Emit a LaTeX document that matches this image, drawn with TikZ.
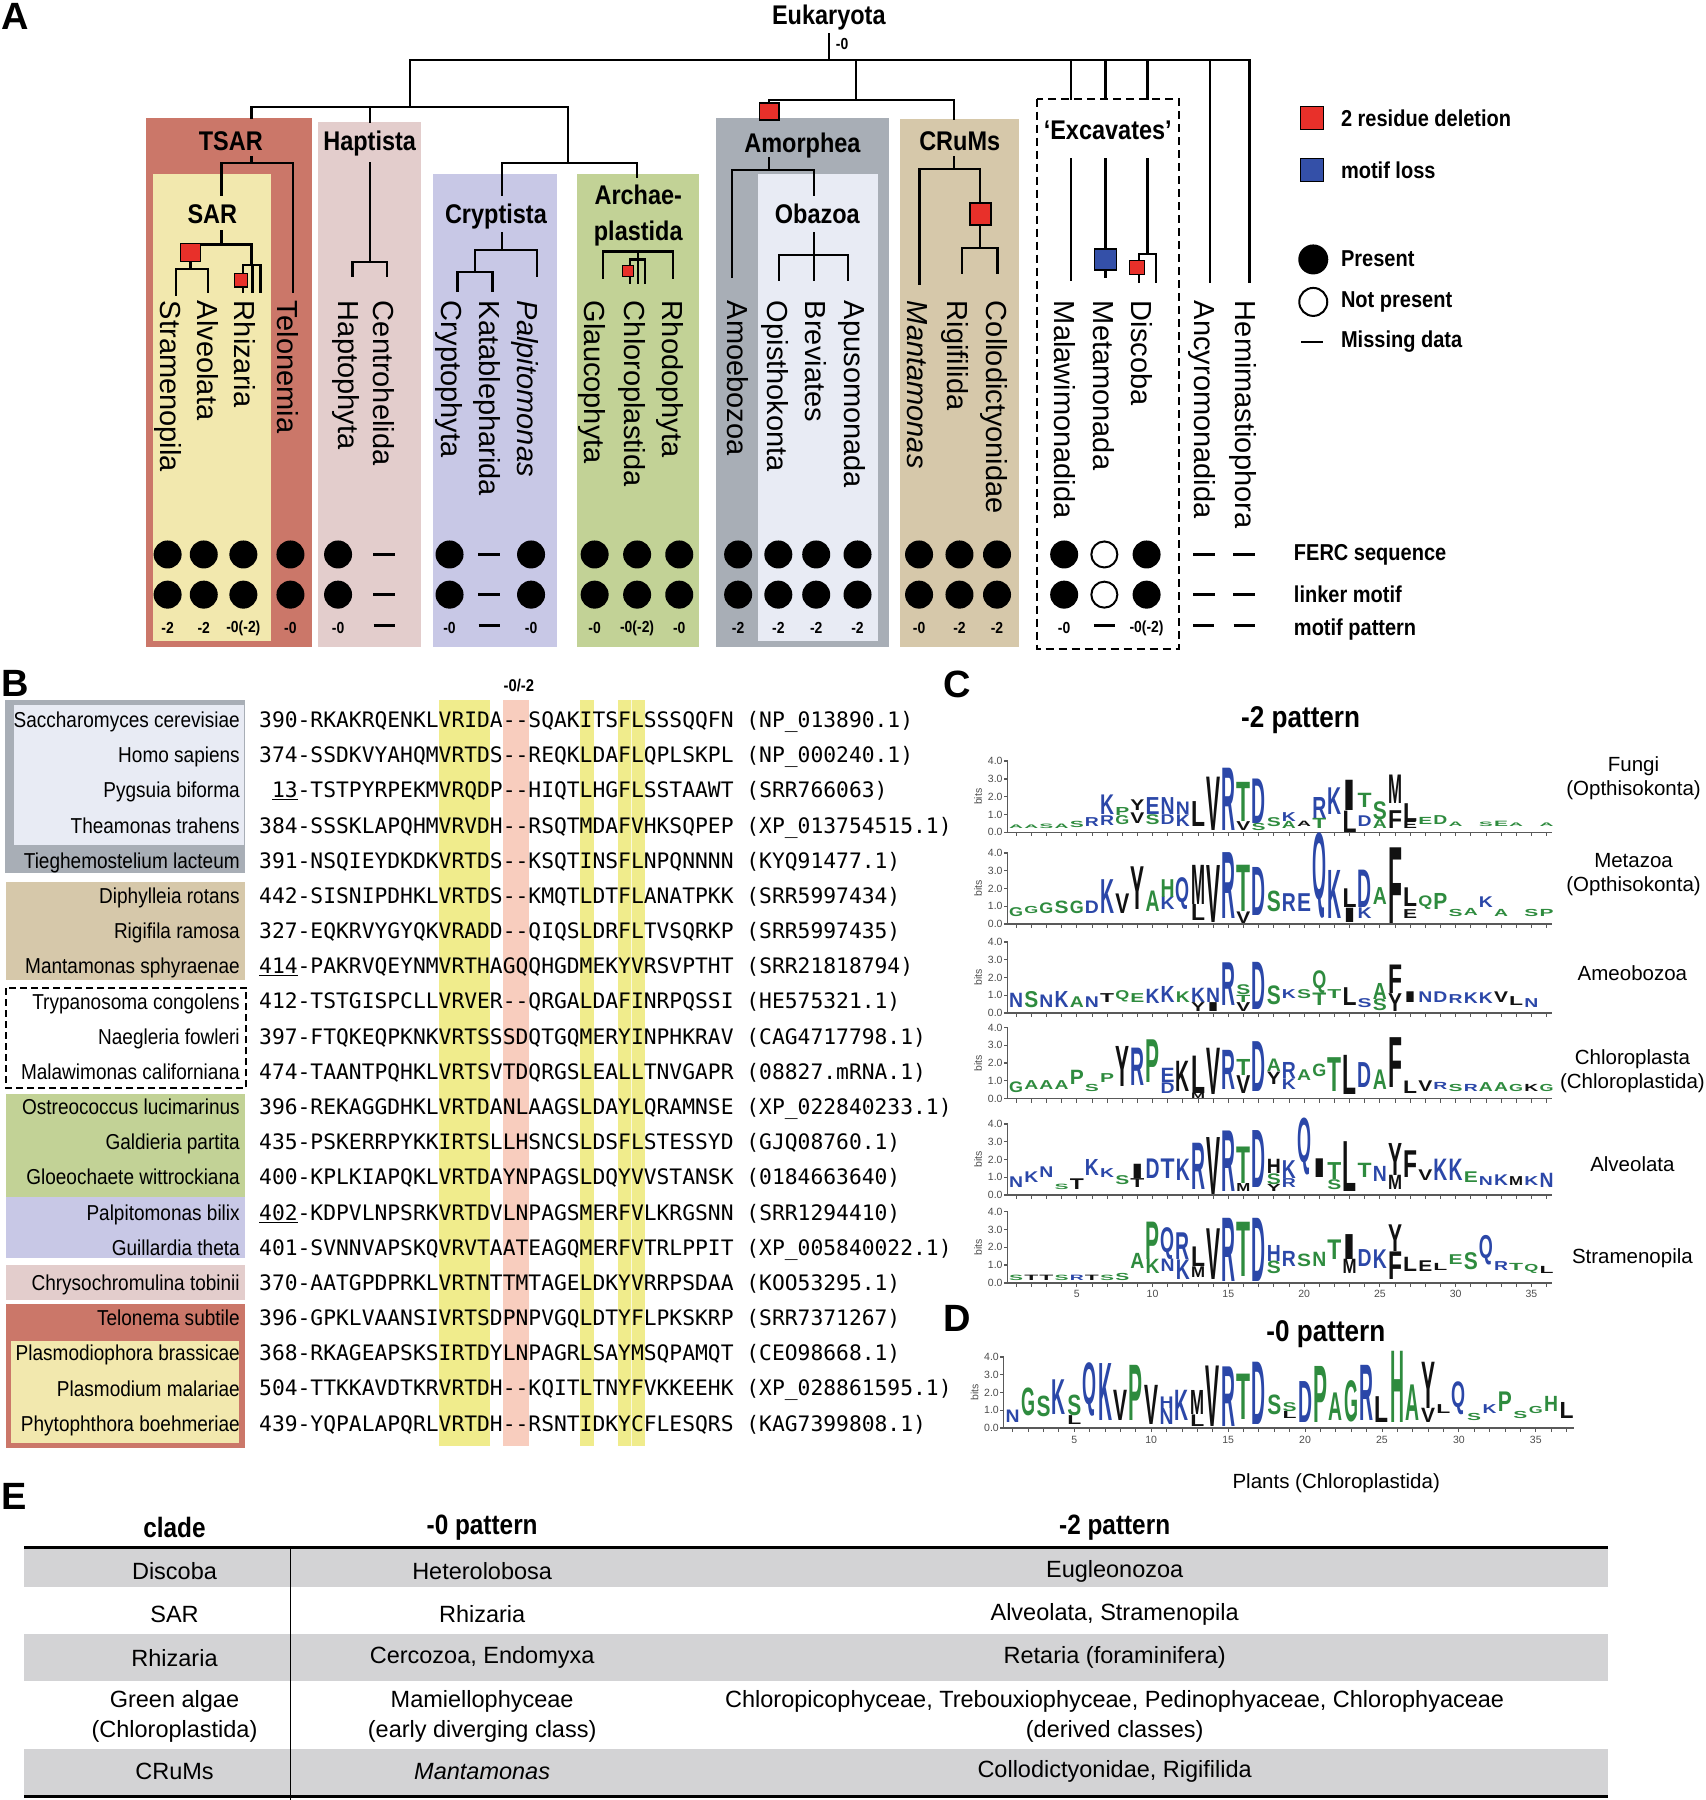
\documentclass[tikz,border=0pt]{standalone}
\usepackage{fontspec}
\usepackage{graphicx}
\setmainfont{Liberation Sans}
\newfontfamily\condfont[FakeStretch=0.87]{Liberation Sans}
\newfontfamily\narrowfont[FakeStretch=0.88]{Liberation Sans}
\newfontfamily\seqfont{DejaVu Sans Mono}
\usepackage{xcolor}
\definecolor{tsarred}{HTML}{CB7769}
\definecolor{saryel}{HTML}{F2E8AE}
\definecolor{haptpink}{HTML}{E3CDCC}
\definecolor{crypblue}{HTML}{C8C8E6}
\definecolor{archgreen}{HTML}{C2D296}
\definecolor{amorgray}{HTML}{A8AEB6}
\definecolor{obazlight}{HTML}{E8EBF4}
\definecolor{crumtan}{HTML}{D6C8AA}
\definecolor{delred}{HTML}{E8302A}
\definecolor{lossblue}{HTML}{3450A8}
\definecolor{hiyel}{HTML}{F0EC8C}
\definecolor{hipink}{HTML}{F8CDBE}
\definecolor{rowgray}{HTML}{D3D3D5}
\definecolor{lb}{HTML}{2B47A8}
\definecolor{lg}{HTML}{2E8B3E}
\definecolor{lk}{HTML}{111111}
\newcommand{\mdash}{\rule[4.5pt]{21pt}{2.8pt}}
% one sequence logo: prefix, baseline, first position x, pitch, letters
\newcommand{\logorow}[5]{%
  \foreach \lpos/\lchar/\lbot/\ltop/\lcol [count=\n] in {#5} {%
    \pgfmathsetmacro\hh{max(0.6,(\ltop-\lbot)*17.8)}%
    \node[logoletter, text=\lcol] (#1-\n) at ({#3+(\lpos-1)*#4}, {#2-\lbot*15.5}) {\resizebox{14pt}{\hh pt}{\lchar}};%
  }%
}
\tikzset{treeline/.style={line width=2.2pt,line cap=rect},
  panellbl/.style={font=\bfseries\fontsize{38}{38}\selectfont,inner sep=0pt,anchor=north west},
  cladehead/.style={font=\condfont\bfseries\fontsize{27}{30}\selectfont,inner sep=0pt,text height=19.5pt,text depth=0pt},
  leaf/.style={font=\fontsize{29}{30}\selectfont,rotate=-90,anchor=west,inner sep=0pt,text height=20.8pt,text depth=0pt},
  present/.style={circle,fill=black,minimum size=28pt,inner sep=0pt},
  absent/.style={circle,draw=black,line width=2pt,fill=white,minimum size=26pt,inner sep=0pt},
  missing/.style={fill=black,minimum width=22pt,minimum height=2.8pt,inner sep=0pt},
  patlbl/.style={font=\condfont\bfseries\fontsize{16}{16}\selectfont,inner sep=0pt},
  legtxt/.style={font=\condfont\bfseries\fontsize{23}{24}\selectfont,anchor=west,inner sep=0pt},
  delbox/.style={draw=black,line width=1.3pt,fill=delred,inner sep=0pt},
  lossbox/.style={draw=black,line width=1.3pt,fill=lossblue,inner sep=0pt},
  species/.style={font=\narrowfont\fontsize{21.6}{24}\selectfont,anchor=east,inner sep=0pt,text height=15.5pt,text depth=0pt},
  seqline/.style={font=\seqfont\fontsize{21.3}{24}\selectfont,anchor=base west,inner sep=0pt},
  ptitle/.style={font=\condfont\bfseries\fontsize{30}{30}\selectfont,inner sep=0pt},
  logoaxis/.style={draw=black!65,line width=1.3pt},
  bitlbl/.style={font=\fontsize{10.5}{10.5}\selectfont,text=black!70,inner sep=0pt},
  logoletter/.style={font=\bfseries,inner sep=0pt,anchor=south},
  logoname/.style={font=\fontsize{20.5}{24}\selectfont,align=center,inner sep=0pt},
  tabhead/.style={font=\condfont\bfseries\fontsize{28}{30}\selectfont,inner sep=0pt},
  tabcell/.style={font=\fontsize{23.5}{30}\selectfont,align=center,inner sep=0pt}}

\begin{document}
\begin{tikzpicture}[x=1.148pt,y=-1.148pt]
\useasboundingbox (0,0) rectangle (1486,1568);
%% ---------------- A: tree
\fill[tsarred] (127,103) rectangle (272,564);
\fill[saryel] (133,152) rectangle (236,558);
\fill[haptpink] (277,106) rectangle (367,564);
\fill[crypblue] (377,152) rectangle (485,564);
\fill[archgreen] (503,152) rectangle (609,564);
\fill[amorgray] (624,103) rectangle (774,564);
\fill[obazlight] (660,152) rectangle (765,558);
\fill[crumtan] (784,104) rectangle (888,564);
\draw[line width=2pt,dash pattern=on 8pt off 5pt] (903,86) rectangle (1027,565);
\node[panellbl] (lblA) at (1,3) {A};
\node[cladehead] (h-euk) at (722,13) {Eukaryota};
\node[patlbl,anchor=west] (h-root) at (728,38) {-0};
\draw[treeline]
 (722,30) -- (722,52) (357,52) -- (1088.5,52)
 (357,52) -- (357,93) (219,93) -- (495,93)
 (219,93) -- (219,103) (219,137) -- (219,142)
 (193,142) -- (255,142) (193,142) -- (193,170) (255,142) -- (255,254)
 (193,201) -- (193,213) (166,213) -- (219,213) (166,213) -- (166,234)
 (153,234) -- (181,234) (153,234) -- (153,257) (181,234) -- (181,254)
 (219,213) -- (219,231) (212,231) -- (227,231)
 (212,231) -- (212,254) (220,231) -- (220,254) (227,231) -- (227,254)
 (322,93) -- (322,106) (322,142) -- (322,228)
 (307,228) -- (337,228) (307,228) -- (307,240) (337,228) -- (337,240)
 (495,93) -- (495,142) (437,142) -- (555,142)
 (437,142) -- (437,170) (555,142) -- (555,154)
 (437,203) -- (437,218) (413.5,218) -- (467.5,218) (467.5,218) -- (467.5,240)
 (413.5,218) -- (413.5,237) (398.5,237) -- (429,237)
 (398.5,237) -- (398.5,253) (429,237) -- (429,253)
 (525,219) -- (586,219) (525,219) -- (525,242) (586,219) -- (586,242)
 (549,226) -- (562,226) (549,226) -- (549,246) (556,219) -- (556,246) (562,226) -- (562,246)
 (746,52) -- (746,87) (670,87) -- (831,87) (670,87) -- (670,103)
 (670,138) -- (670,148) (637.5,148) -- (709,148)
 (637.5,148) -- (637.5,241) (709,148) -- (709,170)
 (709,203) -- (709,244) (678.5,222) -- (739,222)
 (678.5,222) -- (678.5,244) (739,222) -- (739,244)
 (831,87) -- (831,104) (831,137) -- (831,147)
 (801,147) -- (853.6,147) (801,147) -- (801,247) (853.6,147) -- (853.6,216)
 (838,216) -- (869,216) (838,216) -- (838,238) (869,216) -- (869,238)
 (933,52) -- (933,86) (963,52) -- (963,86) (999.6,52) -- (999.6,86)
 (933,139) -- (933,244) (963,139) -- (963,241) (999.6,139) -- (999.6,221)
 (992,221) -- (1006.7,221) (992,221) -- (992,245.5) (1006.7,221) -- (1006.7,245.5)
 (1054,52) -- (1054,245.5) (1088.5,52) -- (1088.5,245.5);
\node[delbox,minimum width=20pt,minimum height=18pt] (del-sar) at (166,220) {};
\node[delbox,minimum size=13.5pt] (del-rhi) at (210,244) {};
\node[delbox,minimum size=11.5pt] (del-arc) at (547,236) {};
\node[delbox,minimum width=19.5pt,minimum height=17pt] (del-amo) at (670,97) {};
\node[delbox,minimum width=21pt,minimum height=22pt] (del-cru) at (854,186.5) {};
\node[lossbox,minimum width=22pt,minimum height=21pt] (loss-met) at (963,226) {};
\node[delbox,minimum width=15pt,minimum height=14pt] (del-dis) at (990.5,233) {};
\node[cladehead] (h-tsar) at (201,123) {TSAR};
\node[cladehead] (h-sar) at (185,186) {SAR};
\node[cladehead] (h-hap) at (322,123) {Haptista};
\node[cladehead] (h-cry) at (432,186) {Cryptista};
\node[cladehead] (h-arc1) at (556,170) {Archae-};
\node[cladehead] (h-arc2) at (556,201) {plastida};
\node[cladehead] (h-amo) at (699,124) {Amorphea};
\node[cladehead] (h-oba) at (712,186) {Obazoa};
\node[cladehead] (h-cru) at (836,123) {CRuMs};
\node[cladehead] (h-exc) at (965,113) {‘Excavates’};
\foreach \lx/\ln [count=\k] in {149/Stramenopila,181/Alveolata,213/Rhizaria,251/Telonemia,
  304/Haptophyta,334/Centrohelida,394/Cryptophyta,427/Katablepharida,460/\textit{Palpitomonas},
  518/Glaucophyta,553/Chloroplastida,586/Rhodophyta,643/Amoebozoa,678/Opisthokonta,711/Breviates,
  745/Apusomonada,800/\textit{Mantamonas},834/Rigifilida,868/Collodictyonidae,928/Malawimonadida,
  962/Metamonada,995/Discoba,1050/Ancyromonadida,1085/Hemimastiophora}
  \node[leaf] (leaf-\k) at (\lx,262) {\ln};
\foreach \dx/\st/\pt [count=\k] in {146/present/-2,177.5/present/-2,212/present/-0(-2),253/present/-0,
  294.5/present/-0,334.7/missing/\mdash,391.6/present/-0,426/missing/\mdash,462.6/present/-0,
  518/present/-0,555/present/-0(-2),591.7/present/-0,643/present/-2,678/present/-2,711/present/-2,
  747/present/-2,800.6/present/-0,835.8/present/-2,868.5/present/-2,927/present/-0,
  962/absent/\mdash,998.8/present/-0(-2),1048.6/missing/\mdash,1083.8/missing/\mdash}
{
  \node[\st] (fe-\k) at (\dx,483) {};
  \node[\st] (lm-\k) at (\dx,518) {};
  \node[patlbl] (mp-\k) at (\dx,547) {\pt};
}
\node[legtxt] (row-fe) at (1127,483) {FERC sequence};
\node[legtxt] (row-lm) at (1127,518) {linker motif};
\node[legtxt] (row-mp) at (1127,548) {motif pattern};
% legend
\node[delbox,minimum size=23pt] (leg-del) at (1143,103) {};
\node[legtxt] (leg-del-t) at (1168,103) {2 residue deletion};
\node[lossbox,minimum size=23pt] (leg-loss) at (1143,148) {};
\node[legtxt] (leg-loss-t) at (1168,148) {motif loss};
\node[present,minimum size=30pt] (leg-pres) at (1144,226) {};
\node[legtxt] (leg-pres-t) at (1168,225) {Present};
\node[absent,minimum size=28pt] (leg-abs) at (1144,263) {};
\node[legtxt] (leg-abs-t) at (1168,263) {Not present};
\node[missing] (leg-miss) at (1143,298) {};
\node[legtxt] (leg-miss-t) at (1168,298) {Missing data};
%% ---------------- B: alignment
\node[panellbl] (lblB) at (1,584) {B};
\fill[amorgray] (4.7,610) rectangle (213,760.7);
\fill[obazlight] (11.8,614) rectangle (212.5,735.8);
\fill[crumtan] (5.6,768) rectangle (213,853.8);
\draw[line width=2pt,dash pattern=on 7pt off 4pt] (5.6,860.7) rectangle (214.6,948);
\fill[archgreen] (5.6,952.7) rectangle (213,1042.5);
\fill[crypblue] (5.6,1042.5) rectangle (213,1095.8);
\fill[haptpink] (5.6,1101.6) rectangle (213,1132.7);
\fill[tsarred] (5.6,1136) rectangle (213,1261.5);
\fill[saryel] (9.3,1168) rectangle (207.8,1257);
\fill[hiyel] (382,610) rectangle (427,1260);
\fill[hipink] (438,610) rectangle (461,1260);
\fill[hiyel] (505,610) rectangle (517.5,1260);
\fill[hiyel] (538,610) rectangle (562,1260);
\draw[white,line width=0.8pt,opacity=0.7] (550,610) -- (550,1260);
\node[patlbl,font=\condfont\bfseries\fontsize{17}{17}\selectfont] (hdr-gap) at (452,597) {-0/-2};
\foreach \sp/\sq [count=\i] in {
  Saccharomyces cerevisiae/390-RKAKRQENKLVRIDA--SQAKITSFLSSSQQFN (NP\_013890.1),
  Homo sapiens/374-SSDKVYAHQMVRTDS--REQKLDAFLQPLSKPL (NP\_000240.1),
  Pygsuia biforma/\hphantom{3}\underline{13}-TSTPYRPEKMVRQDP--HIQTLHGFLSSTAAWT (SRR766063),
  Theamonas trahens/384-SSSKLAPQHMVRVDH--RSQTMDAFVHKSQPEP (XP\_013754515.1),
  Tieghemostelium lacteum/391-NSQIEYDKDKVRTDS--KSQTINSFLNPQNNNN (KYQ91477.1),
  Diphylleia rotans/442-SISNIPDHKLVRTDS--KMQTLDTFLANATPKK (SRR5997434),
  Rigifila ramosa/327-EQKRVYGYQKVRADD--QIQSLDRFLTVSQRKP (SRR5997435),
  Mantamonas sphyraenae/\underline{414}-PAKRVQEYNMVRTHAGQQHGDMEKYVRSVPTHT (SRR21818794),
  Trypanosoma congolens/412-TSTGISPCLLVRVER--QRGALDAFINRPQSSI (HE575321.1),
  Naegleria fowleri/397-FTQKEQPKNKVRTSSSDQTGQMERYINPHKRAV (CAG4717798.1),
  Malawimonas californiana/474-TAANTPQHKLVRTSVTDQRGSLEALLTNVGAPR (08827.mRNA.1),
  Ostreococcus lucimarinus/396-REKAGGDHKLVRTDANLAAGSLDAYLQRAMNSE (XP\_022840233.1),
  Galdieria partita/435-PSKERRPYKKIRTSLLHSNCSLDSFLSTESSYD (GJQ08760.1),
  Gloeochaete wittrockiana/400-KPLKIAPQKLVRTDAYNPAGSLDQYVVSTANSK (0184663640),
  Palpitomonas bilix/\underline{402}-KDPVLNPSRKVRTDVLNPAGSMERFVLKRGSNN (SRR1294410),
  Guillardia theta/401-SVNNVAPSKQVRVTAATEAGQMERFVTRLPPIT (XP\_005840022.1),
  Chrysochromulina tobinii/370-AATGPDPRKLVRTNTTMTAGELDKYVRRPSDAA (KOO53295.1),
  Telonema subtile/396-GPKLVAANSIVRTSDPNPVGQLDTYFLPKSKRP (SRR7371267),
  Plasmodiophora brassicae/368-RKAGEAPSKSIRTDYLNPAGRLSAYMSQPAMQT (CEO98668.1),
  Plasmodium malariae/504-TTKKAVDTKRVRTDH--KQITLTNYFVKKEEHK (XP\_028861595.1),
  Phytophthora boehmeriae/439-YQPALAPQRLVRTDH--RSNTIDKYCFLESQRS (KAG7399808.1)}
{
  \node[species] (sp-\i) at (209,{627+(\i-1)*30.65}) {\sp};
  \node[seqline] (sq-\i) at (225.6,{633.7+(\i-1)*30.65}) {\sq};
}
%% ---------------- C: -2 pattern logos
\node[panellbl] (lblC) at (822,584) {C};
\node[ptitle] (t-m2) at (1133,627) {-2 pattern};
\foreach \yb [count=\k] in {725,805,882.5,957,1041,1117.5} {
  \draw[logoaxis] (877.7,\yb) -- (877.7,\yb-62) (877.7,\yb) -- (1352,\yb);
  \foreach \t in {0,...,4} {
    \draw[logoaxis] (877.7,\yb-\t*15.5) -- ++(-3,0);
    \node[bitlbl,anchor=east] (ct-\k-\t) at (873.5,\yb-\t*15.5) {\t.0};
  }
  \foreach \p in {1,...,36} \draw[logoaxis,line width=0.8pt] (885.2+\p*13.2-13.2,\yb) -- ++(0,3.5);
  \node[bitlbl,rotate=90] (cb-\k) at (852,\yb-31) {bits};
}
\foreach \n in {5,10,...,35} \node[bitlbl] (cx-\n) at (885.2+\n*13.2-13.2,1127) {\n};
\logorow{fu}{725}{885.2}{13.2}{1/A/0.2/0.4/lg,2/A/0.2/0.4/lg,3/S/0.2/0.45/lg,4/A/0.2/0.45/lg,5/S/0.25/0.6/lg,
  6/R/0.3/0.8/lb,7/R/0.35/0.9/lb,7/K/1.0/2.1/lb,8/G/0.4/0.9/lg,8/P/0.95/1.4/lg,9/V/0.5/1.1/lk,9/Y/1.2/1.8/lk,
  10/S/0.4/0.95/lg,10/E/1.0/1.95/lb,11/D/0.4/0.95/lb,11/N/1.0/1.95/lb,12/K/0.3/0.95/lb,12/N/1.0/1.7/lb,
  13/L/0.3/1.7/lk,14/V/0.1/3.1/lk,15/R/0.1/3.6/lb,16/V/0.1/0.6/lk,16/T/0.6/2.8/lg,17/S/0.1/0.5/lg,
  17/D/0.5/3.0/lb,18/S/0.3/0.8/lg,19/A/0.2/0.6/lg,19/K/0.6/1.1/lb,20/A/0.3/0.6/lk,21/T/0.2/0.77/lg,
  21/R/0.77/1.95/lb,22/K/1.0/2.5/lb,23/L/0.0/1.2/lk,23/I/1.2/2.9/lk,24/D/0.3/0.9/lb,24/T/1.4/2.2/lg,
  25/A/0.2/0.7/lg,25/S/0.7/1.7/lg,26/F/0.2/1.2/lk,26/M/1.6/3.2/lk,27/E/0.2/0.6/lk,27/L/0.6/1.6/lk,
  28/E/0.4/0.8/lg,29/D/0.4/0.9/lg,30/A/0.3/0.55/lg,32/S/0.3/0.55/lg,33/E/0.3/0.6/lg,34/A/0.3/0.5/lg,36/A/0.3/0.5/lg}
\logorow{mz}{805}{885.2}{13.2}{1/G/0.4/0.9/lg,2/G/0.6/1.0/lg,3/G/0.6/1.2/lg,4/S/0.6/1.3/lg,5/G/0.6/1.3/lg,
  6/D/0.6/1.3/lb,7/K/0.6/2.5/lb,8/V/0.6/1.7/lk,9/Y/0.8/3.2/lk,10/A/0.7/1.85/lg,11/K/0.8/1.5/lb,11/H/1.5/2.5/lg,
  12/Q/0.8/2.2/lb,13/L/0.2/1.1/lk,13/M/1.1/3.3/lk,14/V/0.1/3.3/lk,15/R/0.3/4.0/lb,16/V/0.05/0.7/lk,
  16/T/0.7/3.3/lg,17/D/0.5/3.2/lb,18/S/0.7/1.85/lg,19/R/0.7/1.7/lb,20/E/0.7/1.7/lb,21/Q/0.3/4.05/lb,
  22/K/0.3/3.0/lb,23/I/0.1/0.9/lk,23/L/0.9/1.95/lk,24/K/0.3/0.9/lb,24/D/0.9/3.0/lb,25/A/1.1/2.05/lg,
  26/F/0.05/4.3/lk,27/E/0.3/0.8/lk,27/L/1.0/2.05/lk,28/Q/0.8/1.4/lg,29/P/0.8/1.7/lg,30/S/0.4/0.8/lg,
  31/A/0.5/0.9/lg,32/K/0.9/1.5/lb,33/A/0.4/0.8/lg,35/S/0.4/0.8/lg,36/P/0.4/0.8/lg}
\logorow{am}{882.5}{885.2}{13.2}{1/N/0.3/1.1/lb,2/S/0.3/1.2/lg,3/N/0.3/1.0/lb,4/K/0.3/1.2/lb,5/A/0.3/0.9/lg,
  6/N/0.3/0.9/lb,7/T/0.6/1.1/lk,8/Q/0.6/1.1/lg,9/E/0.6/1.1/lg,10/K/0.5/1.3/lb,11/K/0.6/1.5/lb,12/K/0.6/1.2/lg,
  13/Y/0.1/0.6/lk,13/K/0.6/1.4/lb,14/I/0.1/0.6/lk,14/N/0.6/1.4/lb,15/R/0.4/2.8/lb,16/V/0.1/0.6/lk,
  16/T/0.6/1.0/lg,16/S/1.0/1.55/lg,17/D/0.2/2.85/lb,18/S/0.45/1.5/lg,19/K/0.8/1.3/lb,20/S/0.8/1.3/lg,
  21/T/0.4/1.1/lg,21/Q/1.1/2.1/lg,22/T/0.8/1.3/lg,23/L/0.4/1.4/lk,24/S/0.3/0.8/lb,25/S/0.1/0.75/lg,
  25/A/0.75/1.65/lg,26/Y/0.1/1.1/lk,26/F/1.1/2.7/lk,27/I/0.6/1.2/lk,28/N/0.6/1.2/lb,29/D/0.6/1.2/lb,
  30/R/0.5/1.0/lb,31/K/0.5/1.1/lb,32/K/0.5/1.1/lb,33/V/0.6/1.2/lk,34/L/0.4/0.9/lk,35/N/0.3/0.8/lb}
\logorow{ch}{957}{885.2}{13.2}{1/G/0.3/0.9/lg,2/A/0.5/1.0/lg,3/A/0.5/1.0/lg,4/A/0.5/1.0/lg,5/P/0.8/1.6/lg,
  6/S/0.4/0.8/lg,7/P/0.9/1.4/lg,8/Y/0.65/2.9/lk,9/R/0.7/2.8/lb,10/P/0.9/3.3/lg,11/D/0.3/0.9/lb,
  11/E/0.9/1.7/lb,12/K/0.4/2.1/lk,13/M/0.0/0.3/lk,13/L/0.3/2.4/lk,14/V/0.2/2.8/lk,15/R/0.5/2.7/lb,
  16/V/0.3/1.3/lk,16/T/1.3/2.2/lg,17/D/0.4/3.2/lb,18/Y/0.8/1.5/lk,18/A/1.5/2.2/lg,19/K/0.5/1.1/lb,
  19/R/1.1/2.0/lb,20/A/1.0/1.6/lg,21/G/1.2/1.9/lg,22/T/0.4/2.3/lg,23/L/0.2/2.4/lk,24/D/0.6/2.0/lb,
  25/A/0.5/1.6/lg,26/F/0.6/3.4/lk,27/L/0.3/1.0/lk,28/V/0.4/1.0/lk,29/R/0.5/0.9/lb,30/S/0.4/0.8/lg,
  31/R/0.4/0.8/lb,32/A/0.4/0.9/lg,33/A/0.4/0.9/lg,34/G/0.4/0.8/lg,35/K/0.4/0.8/lk,36/G/0.4/0.8/lg}
\logorow{al}{1041}{885.2}{13.2}{1/N/0.4/1.0/lb,2/K/0.7/1.3/lb,3/N/1.0/1.6/lb,4/S/0.3/0.6/lg,5/T/0.3/0.9/lk,
  6/K/1.1/2.0/lb,7/K/1.0/1.5/lb,8/S/0.6/1.1/lg,9/T/0.4/0.9/lk,9/I/0.9/1.7/lk,10/D/0.9/2.0/lb,
  11/T/0.9/2.0/lb,12/K/0.8/2.0/lb,13/R/0.3/2.9/lb,14/V/0.0/3.2/lk,15/R/0.2/3.6/lb,16/M/0.2/0.65/lk,
  16/T/0.65/2.7/lg,17/D/0.4/3.6/lb,18/Y/0.2/0.6/lk,18/S/0.6/1.2/lg,18/H/1.2/2.0/lk,19/R/0.4/0.9/lb,
  19/K/0.9/1.9/lb,20/Q/1.1/3.6/lb,21/I/0.95/2.0/lk,22/S/0.3/0.85/lg,22/T/0.85/1.8/lg,23/L/0.2/3.0/lk,
  24/T/1.0/1.8/lg,25/N/0.75/1.6/lb,26/M/0.3/1.1/lk,26/Y/1.1/2.9/lk,27/F/1.0/2.5/lk,28/V/0.8/1.4/lk,
  29/K/0.8/2.0/lb,30/K/0.8/2.0/lb,31/E/0.7/1.3/lg,32/N/0.5/1.0/lb,33/K/0.5/1.1/lb,34/M/0.5/1.0/lk,
  35/K/0.5/1.0/lb,36/N/0.4/1.2/lb}
\logorow{st}{1117.5}{885.2}{13.2}{1/S/0.1/0.4/lg,2/T/0.1/0.4/lk,3/T/0.1/0.4/lk,4/S/0.1/0.4/lg,5/R/0.1/0.4/lb,
  6/T/0.1/0.4/lk,7/S/0.1/0.4/lg,8/S/0.1/0.5/lg,9/A/0.8/1.65/lg,10/K/0.5/1.3/lg,10/P/1.3/3.4/lg,
  11/N/0.6/1.3/lb,11/Q/1.3/2.7/lb,12/K/0.2/1.3/lb,12/R/1.3/2.8/lb,13/M/0.3/0.9/lk,13/L/0.9/2.0/lk,
  14/V/0.15/3.0/lk,15/R/0.05/3.6/lb,16/T/0.35/3.4/lg,17/D/0.05/3.6/lb,18/S/0.5/1.2/lg,18/H/1.2/2.1/lb,
  19/R/0.9/1.75/lb,20/S/0.9/1.6/lg,21/N/0.9/1.7/lg,22/T/1.3/2.4/lg,23/M/0.5/1.3/lk,23/I/1.3/2.7/lk,
  24/D/0.9/1.85/lb,25/K/0.8/1.85/lb,26/F/0.2/1.75/lk,26/Y/1.75/3.25/lk,27/L/0.6/1.4/lk,28/E/0.6/1.2/lk,
  29/L/0.7/1.1/lk,30/E/1.0/1.55/lg,31/S/0.7/1.65/lg,32/Q/1.0/2.3/lb,33/R/0.7/1.2/lb,34/T/0.7/1.1/lg,
  35/Q/0.5/0.9/lg,36/L/0.5/0.9/lk}
\node[logoname] (n-fungi) at (1423,678) {Fungi\\(Opthisokonta)};
\node[logoname] (n-meta) at (1423,762) {Metazoa\\(Opthisokonta)};
\node[logoname] (n-amoe) at (1422,848) {Ameobozoa};
\node[logoname] (n-chlo) at (1422,933) {Chloroplasta\\(Chloroplastida)};
\node[logoname] (n-alve) at (1422,1014) {Alveolata};
\node[logoname] (n-stra) at (1422,1096) {Stramenopila};
%% ---------------- D: -0 pattern logo
\node[panellbl] (lblD) at (822,1137) {D};
\node[ptitle] (t-m0) at (1155,1162) {-0 pattern};
\draw[logoaxis] (874.4,1244) -- (874.4,1182) (874.4,1244) -- (1371,1244);
\foreach \t in {0,...,4} {
  \draw[logoaxis] (874.4,1244-\t*15.5) -- ++(-3,0);
  \node[bitlbl,anchor=east] (dt-\t) at (870.2,1244-\t*15.5) {\t.0};
}
\foreach \p in {1,...,37} \draw[logoaxis,line width=0.8pt] (882.2+\p*13.4-13.4,1244) -- ++(0,3.5);
\node[bitlbl,rotate=90] (db) at (849,1213) {bits};
\foreach \n in {5,10,...,35} \node[bitlbl] (dx-\n) at (882.2+\n*13.4-13.4,1254.5) {\n};
\logorow{pl}{1244}{882.2}{13.4}{1/N/0.3/1.0/lb,2/G/0.65/2.2/lg,3/S/0.6/1.75/lg,4/K/0.75/2.7/lb,5/L/0.2/0.7/lk,
  5/S/0.7/1.85/lg,6/Q/0.65/3.0/lb,7/K/0.4/3.6/lb,8/V/0.4/2.1/lk,9/P/0.4/3.5/lg,10/V/0.2/2.4/lk,
  11/N/0.2/1.1/lb,11/H/1.1/1.75/lb,12/K/0.4/2.1/lb,13/L/0.1/0.75/lk,13/M/0.75/2.1/lk,14/V/0.1/3.5/lk,
  15/R/0.1/3.45/lb,16/T/0.45/3.0/lg,17/D/0.2/3.7/lb,18/S/0.75/1.85/lg,19/L/0.5/0.9/lk,19/S/0.9/1.4/lg,
  20/D/0.3/2.6/lb,21/P/0.3/3.45/lg,22/A/0.4/1.95/lg,23/G/0.3/2.6/lg,24/R/0.4/3.5/lb,25/L/0.3/1.75/lk,
  26/H/0.3/4.3/lg,27/A/0.4/2.4/lg,28/V/0.3/1.1/lk,28/Y/1.1/3.7/lk,29/L/0.8/1.3/lk,30/Q/0.75/2.2/lb,
  31/S/0.4/0.8/lg,32/K/0.8/1.3/lb,33/P/0.9/2.0/lg,34/S/0.5/0.9/lg,35/G/0.8/1.2/lg,36/H/0.9/1.75/lg,37/L/0.5/1.4/lk}
\node[logoname] (n-plants) at (1164,1292) {Plants (Chloroplastida)};
%% ---------------- E: table
\node[panellbl] (lblE) at (1,1292) {E};
\node[tabhead] (th-1) at (152,1331) {clade};
\node[tabhead] (th-2) at (420,1331) {-0 pattern};
\node[tabhead] (th-3) at (971,1331) {-2 pattern};
\fill[rowgray] (21,1349.6) rectangle (1401,1382.7);
\fill[rowgray] (21,1423.3) rectangle (1401,1464);
\fill[rowgray] (21,1523.8) rectangle (1401,1563.6);
\draw[line width=3pt] (21,1348) -- (1401,1348) (21,1565) -- (1401,1565);
\draw[line width=1.5pt] (253,1348) -- (253,1568);
\node[tabcell] (c-1-1) at (152,1369) {Discoba};
\node[tabcell] (c-1-2) at (420,1369) {Heterolobosa};
\node[tabcell] (c-1-3) at (971,1369) {Eugleonozoa};
\node[tabcell] (c-2-1) at (152,1406) {SAR};
\node[tabcell] (c-2-2) at (420,1406) {Rhizaria};
\node[tabcell] (c-2-3) at (971,1406) {Alveolata, Stramenopila};
\node[tabcell] (c-3-1) at (152,1444) {Rhizaria};
\node[tabcell] (c-3-2) at (420,1444) {Cercozoa, Endomyxa};
\node[tabcell] (c-3-3) at (971,1444) {Retaria (foraminifera)};
\node[tabcell] (c-4-1) at (152,1495) {Green algae\\(Chloroplastida)};
\node[tabcell] (c-4-2) at (420,1495) {Mamiellophyceae\\(early diverging class)};
\node[tabcell] (c-4-3) at (971,1495) {Chloropicophyceae, Trebouxiophyceae, Pedinophyaceae, Chlorophyaceae\\(derived classes)};
\node[tabcell] (c-5-1) at (152,1543) {CRuMs};
\node[tabcell] (c-5-2) at (420,1543) {\textit{Mantamonas}};
\node[tabcell] (c-5-3) at (971,1543) {Collodictyonidae, Rigifilida};
\end{tikzpicture}
\end{document}
